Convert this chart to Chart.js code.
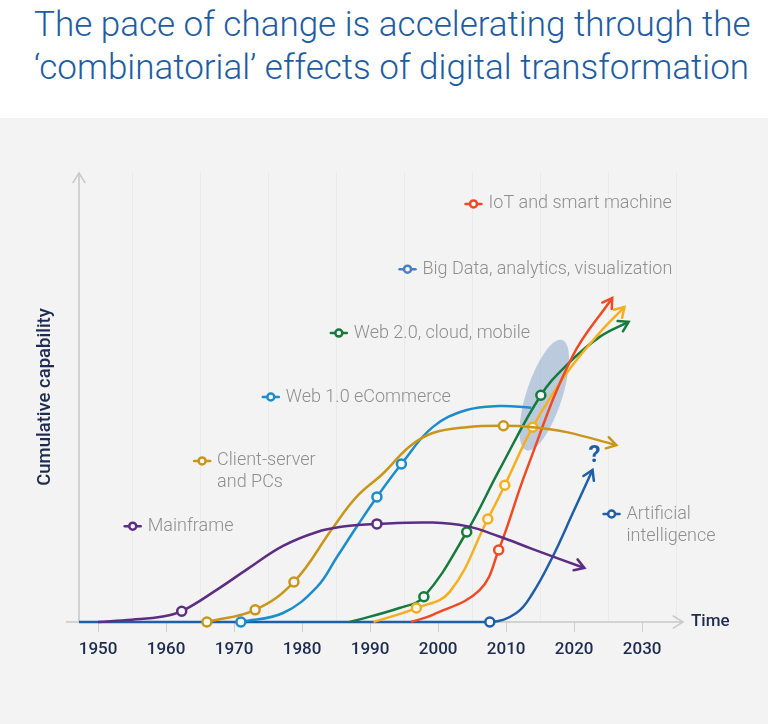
<!DOCTYPE html>
<html>
<head>
<meta charset="utf-8">
<script src="https://cdn.jsdelivr.net/npm/chart.js@4"></script>
<style>
  body { margin: 0; width: 768px; height: 724px; overflow: hidden; font-family: Roboto, "Liberation Sans", sans-serif; }
  .head { height: 118px; background: #fff; }
  .head h1 { margin: 0; padding: 3px 0 0 34px; font-weight: 300; font-size: 35px; line-height: 43px; color: #1e5ca2; white-space: nowrap; }
  .panel { height: 606px; background: #f3f3f3; }
  canvas { display: block; }
</style>
</head>
<body>
<div class="head"><h1>The pace of change is accelerating through the<br>‘combinatorial’ effects of digital transformation</h1></div>
<div class="panel"><canvas id="chart" width="768" height="606"></canvas></div>
<script>
// years along the time axis
const yearTicks = [1950, 1960, 1970, 1980, 1990, 2000, 2010, 2020, 2030];

// [year, cumulative capability 0-100]
const mainframe = [[1950, 0], [1955, 0.5], [1959.5, 1.2], [1962.3, 2.4], [1967.5, 7.2], [1972, 11.8], [1977.2, 16.9],
  [1982.2, 20], [1986, 21.2], [1991, 21.8], [1999.2, 22.1], [2004.2, 21.3], [2009, 19], [2013.9, 16.2], [2021.5, 12]];
const mainframeMarks = [1962.3, 1991];

const clientServer = [[1966, 0], [1973.1, 2.7], [1978.8, 8.9], [1984.5, 20.9], [1988, 27.8], [1991.9, 33], [1995.8, 39],
  [1999.2, 42], [2004.2, 43.3], [2009.6, 43.6], [2013.9, 43.3], [2018.9, 42.2], [2026.2, 39.3]];
const clientServerMarks = [1966, 1973.1, 1978.8, 2009.6];

const web1 = [[1971, 0], [1977.2, 2], [1982.2, 7.8], [1985.1, 14.4], [1988, 21.1], [1991, 27.8], [1994.6, 35.1],
  [1999.2, 43.3], [2004.2, 47.1], [2009, 48], [2013.7, 47.6]];
const web1Marks = [1971, 1991, 1994.6];

const web2 = [[1987, 0], [1994.3, 3.1], [1997.9, 5.6], [2004.2, 20], [2009, 33.8], [2015.1, 50.4], [2018.9, 57.1],
  [2023.7, 63.3], [2028, 66.7]];
const web2Marks = [1997.9, 2004.2, 2015.1];

const bigData = [[1990.5, 0], [1996.8, 3.1], [2001.7, 6.7], [2007.3, 22.9], [2009.8, 30.4], [2013.9, 43.3], [2018.9, 55.3],
  [2023.7, 64.2], [2027.4, 70]];
const bigDataMarks = [1996.8, 2007.3, 2009.8, 2013.9];

const iot = [[1996, 0], [1999.2, 1.6], [2006.1, 7.1], [2008.9, 16], [2013, 33.8], [2019.7, 58.9], [2025.6, 72]];
const iotMarks = [2008.9];

const ai = [[1947.2, 0], [2007.6, 0], [2011.5, 2], [2013.9, 6.4], [2016.8, 14.4], [2019.8, 24.2], [2022.7, 33.8]];
const aiMarks = [2007.6];

// where the shaded overlap sits and where the labels go, in [year, capability]
const overlapAt = [2015.6, 50.4];
const questionAt = [2023.0, 36.9];
const labels = [
  { lines: ['IoT and smart machine'], at: [2005.2, 92.9], color: '#ef4a23' },
  { lines: ['Big Data, analytics, visualization'], at: [1995.5, 78.4], color: '#4a7ec2' },
  { lines: ['Web 2.0, cloud, mobile'], at: [1985.4, 64.2], color: '#167a3c' },
  { lines: ['Web 1.0 eCommerce'], at: [1975.4, 50], color: '#1b8ccc' },
  { lines: ['Client-server', 'and PCs'], at: [1965.3, 35.8], color: '#c9961a' },
  { lines: ['Mainframe'], at: [1955.1, 21.3], color: '#5c2d82' },
  { lines: ['Artificial', 'intelligence'], at: [2025.5, 24], color: '#1f5ea8' }
];

const NAVY = '#1c2b4f';

function line(points, marks, color, arrow) {
  return {
    data: points.map(([x, y]) => ({ x, y })),
    borderColor: color,
    borderWidth: 2.5,
    tension: 0.4,
    pointRadius: (c) => (c.raw && marks.includes(c.raw.x) ? 4.5 : 0),
    pointBorderColor: color,
    pointBackgroundColor: '#f8f8f8',
    pointBorderWidth: 2.5,
    clip: false,
    arrow: arrow
  };
}

function chevron(ctx, x, y, angle, size) {
  ctx.beginPath();
  ctx.moveTo(x - size * Math.cos(angle - 0.55), y - size * Math.sin(angle - 0.55));
  ctx.lineTo(x, y);
  ctx.lineTo(x - size * Math.cos(angle + 0.55), y - size * Math.sin(angle + 0.55));
  ctx.stroke();
}

const decor = {
  id: 'decor',
  beforeDatasetsDraw(chart) {
    const { ctx, chartArea: a, scales: { x, y } } = chart;
    ctx.save();
    // faint half decade lines
    ctx.strokeStyle = '#eaeaea';
    ctx.lineWidth = 1;
    for (let yr = 1955; yr < 2036; yr += 10) {
      const px = Math.round(x.getPixelForValue(yr)) + 0.5;
      ctx.beginPath();
      ctx.moveTo(px, a.top);
      ctx.lineTo(px, a.bottom);
      ctx.stroke();
    }
    // axes with open arrow heads
    ctx.strokeStyle = '#c8c8c8';
    ctx.lineWidth = 1.5;
    ctx.beginPath();
    ctx.moveTo(a.left, a.bottom);
    ctx.lineTo(a.left, a.top + 1);
    ctx.moveTo(a.left - 13, a.bottom);
    ctx.lineTo(a.right, a.bottom);
    ctx.stroke();
    chevron(ctx, a.left, a.top + 1, -Math.PI / 2, 12);
    chevron(ctx, a.right, a.bottom, 0, 12);
    // shaded overlap
    ctx.fillStyle = 'rgba(120,155,195,0.45)';
    ctx.beginPath();
    ctx.ellipse(x.getPixelForValue(overlapAt[0]), y.getPixelForValue(overlapAt[1]), 18, 58, 18 * Math.PI / 180, 0, Math.PI * 2);
    ctx.fill();
    ctx.restore();
  },
  afterDatasetsDraw(chart) {
    const { ctx, chartArea: a, scales: { x, y } } = chart;
    ctx.save();
    ctx.lineWidth = 2.5;
    ctx.lineCap = 'round';
    chart.data.datasets.forEach((ds, i) => {
      if (!ds.arrow) return;
      const pts = chart.getDatasetMeta(i).data;
      const end = pts[pts.length - 1];
      const from = end.cp1x !== undefined ? { x: end.cp1x, y: end.cp1y } : pts[pts.length - 2];
      ctx.strokeStyle = ds.borderColor;
      chevron(ctx, end.x, end.y, Math.atan2(end.y - from.y, end.x - from.x), 11);
    });

    // series labels with a small line-and-ring icon
    ctx.font = '300 18px Roboto, "Liberation Sans", sans-serif';
    ctx.textBaseline = 'middle';
    labels.forEach((l) => {
      const px = x.getPixelForValue(l.at[0]);
      const py = y.getPixelForValue(l.at[1]);
      ctx.strokeStyle = l.color;
      ctx.lineWidth = 2.5;
      ctx.beginPath();
      ctx.moveTo(px - 8, py);
      ctx.lineTo(px + 8, py);
      ctx.stroke();
      ctx.fillStyle = '#f8f8f8';
      ctx.beginPath();
      ctx.arc(px, py, 3.5, 0, Math.PI * 2);
      ctx.fill();
      ctx.stroke();
      ctx.fillStyle = '#8e8e8e';
      l.lines.forEach((t, k) => ctx.fillText(t, px + 15, py + k * 22));
    });

    ctx.fillStyle = '#1f5ea8';
    ctx.font = 'bold 24px Roboto, "Liberation Sans", sans-serif';
    ctx.textAlign = 'center';
    ctx.fillText('?', x.getPixelForValue(questionAt[0]), y.getPixelForValue(questionAt[1]));

    ctx.fillStyle = NAVY;
    ctx.font = '500 17px Roboto, "Liberation Sans", sans-serif';
    ctx.textAlign = 'left';
    ctx.fillText('Time', a.right + 8, a.bottom);
    ctx.restore();
  }
};

new Chart(document.getElementById('chart'), {
  type: 'line',
  data: {
    datasets: [
      line(mainframe, mainframeMarks, '#5c2d82', true),
      line(clientServer, clientServerMarks, '#c9961a', true),
      line(web1, web1Marks, '#1b8ccc', false),
      line(iot, iotMarks, '#ef4a23', true),
      line(bigData, bigDataMarks, '#f6ae1c', true),
      line(web2, web2Marks, '#167a3c', true),
      line(ai, aiMarks, '#1f5ea8', true)
    ]
  },
  options: {
    responsive: false,
    animation: false,
    events: [],
    layout: { padding: { top: 54, right: 85, left: 0, bottom: 0 } },
    plugins: { legend: { display: false }, tooltip: { enabled: false } },
    scales: {
      x: {
        type: 'linear',
        min: 1947.2,
        max: 2036,
        afterBuildTicks: (s) => { s.ticks = yearTicks.map((v) => ({ value: v })); },
        afterFit: (s) => { s.height = 102; },
        border: { display: false },
        grid: { drawOnChartArea: false, tickLength: 10, color: '#cfcfcf' },
        ticks: {
          color: NAVY,
          padding: 8,
          maxRotation: 0,
          font: { family: 'Roboto, "Liberation Sans", sans-serif', size: 17, weight: '500' },
          callback: (v) => String(v)
        }
      },
      y: {
        min: 0,
        max: 100,
        afterFit: (s) => { s.width = 79; },
        border: { display: false },
        grid: { display: false },
        ticks: { display: false },
        title: {
          display: true,
          text: 'Cumulative capability',
          color: NAVY,
          padding: { top: 34, bottom: 0 },
          font: { family: 'Roboto, "Liberation Sans", sans-serif', size: 18.5, weight: '500' }
        }
      }
    }
  },
  plugins: [decor]
});
</script>
</body>
</html>
